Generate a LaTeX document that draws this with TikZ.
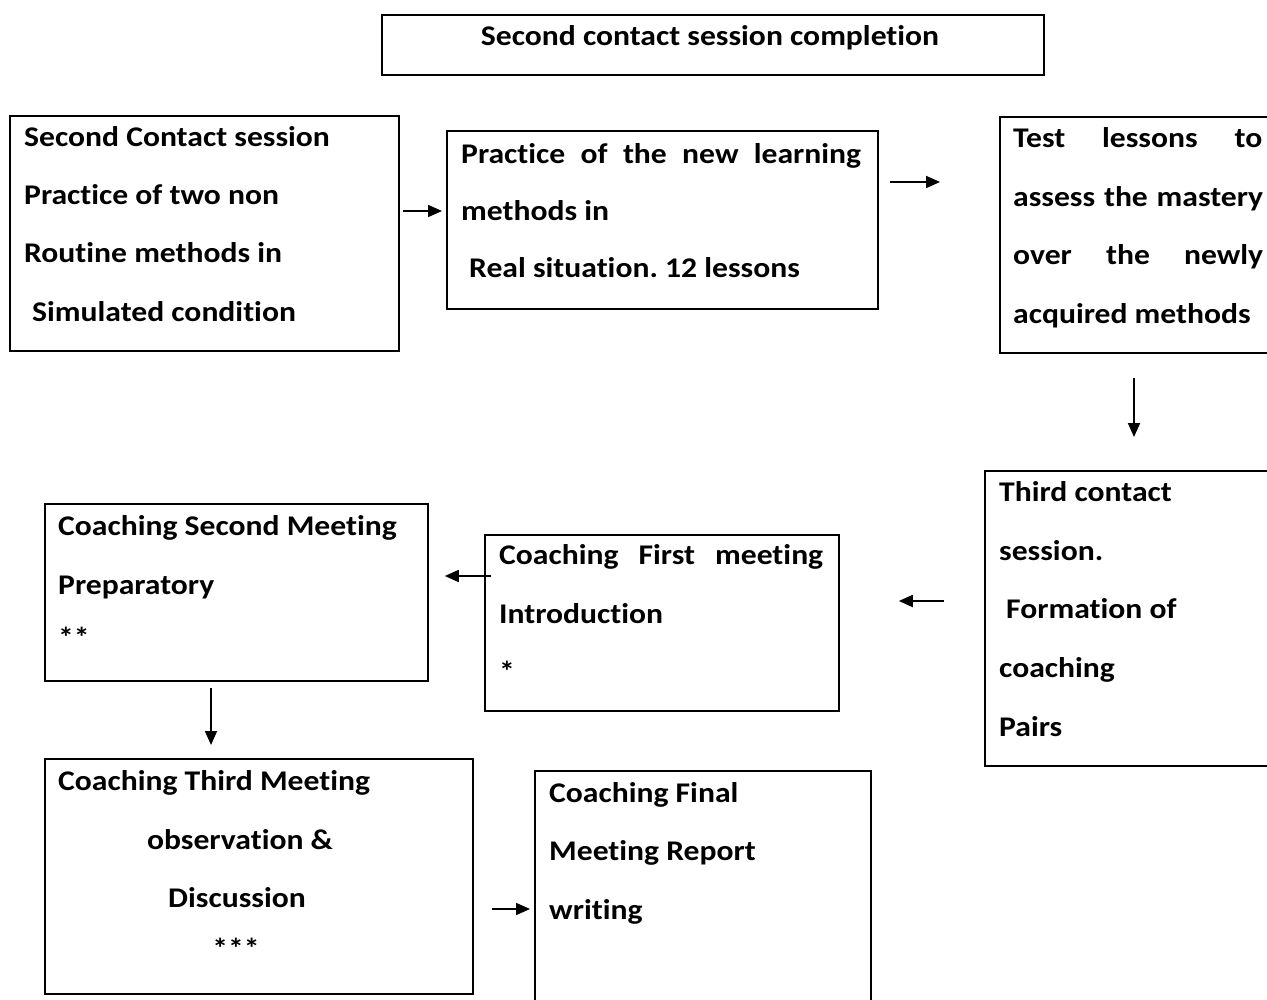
\documentclass[tikz,border=0pt]{standalone}
\usepackage{fontspec}
\setmainfont{Carlito}[FakeStretch=1.11, Ligatures={NoCommon}]
\usetikzlibrary{arrows.meta}
\frenchspacing
\tikzset{
  box/.style={draw, line width=1.8pt, anchor=north west, inner sep=0pt},
  txt/.style={anchor=base west, inner sep=0pt, font=\bfseries\fontsize{28.5}{34}\selectfont},
  arr/.style={line width=1.8pt, -{Triangle[length=14pt,width=12pt]}}
}
\begin{document}
\begin{tikzpicture}[x=1pt,y=-1pt]
\clip (0,0) rectangle (1267,1000);
\fill[white] (0,0) rectangle (1267,1000);
% boxes
\node[box, minimum width=662pt, minimum height=60pt] (T) at (381,14) {};
\node[box, minimum width=389pt, minimum height=235pt] (A) at (9,115) {};
\node[box, minimum width=431pt, minimum height=178pt] (B) at (446,130) {};
\node[box, minimum width=300pt, minimum height=236pt] (C) at (999,116) {};
\node[box, minimum width=310pt, minimum height=295pt] (D) at (984,470) {};
\node[box, minimum width=354pt, minimum height=176pt] (E) at (484,534) {};
\node[box, minimum width=383pt, minimum height=177pt] (F) at (44,503) {};
\node[box, minimum width=428pt, minimum height=235pt] (G) at (44,758) {};
\node[box, minimum width=336pt, minimum height=250pt] (H) at (534,770) {};
% texts
\node[txt, anchor=base] (tT) at (710,46) {Second contact session completion};
\node[txt] (tA1) at (24,147) {Second Contact session};
\node[txt] (tA2) at (24,205) {Practice of two non};
\node[txt] (tA3) at (24,263) {Routine methods in};
\node[txt] (tA4) at (32,322) {Simulated condition};
\node[txt] (tB1) at (461,164) {\makebox[400pt][s]{Practice of the new learning}};
\node[txt] (tB2) at (461,221) {methods in};
\node[txt] (tB3) at (469,278) {Real situation. 12 lessons};
\node[txt] (tC1) at (1013,148) {\makebox[249pt][s]{Test lessons to}};
\node[txt] (tC2) at (1013,206.5) {\makebox[250pt][s]{assess the mastery}};
\node[txt] (tC3) at (1013,265) {\makebox[250pt][s]{over the newly}};
\node[txt] (tC4) at (1013,323.5) {acquired methods};
\node[txt] (tD1) at (999,501) {Third contact};
\node[txt] (tD2) at (999,560) {session.};
\node[txt] (tD3) at (1006,618) {Formation of};
\node[txt] (tD4) at (999,677) {coaching};
\node[txt] (tD5) at (999,736) {Pairs};
\node[txt] (tE1) at (499,564) {\makebox[324pt][s]{Coaching First meeting}};
\node[txt] (tE2) at (499,623) {Introduction};
\node[txt] (tE3) at (499,681) {*};
\node[txt] (tF1) at (58,535) {Coaching Second Meeting};
\node[txt] (tF2) at (58,594) {Preparatory};
\node[txt] (tF3) at (58,647) {**};
\node[txt] (tG1) at (58,790) {Coaching Third Meeting};
\node[txt, anchor=base] (tG2) at (240,849) {observation \&};
\node[txt, anchor=base] (tG3) at (237,907) {Discussion};
\node[txt, anchor=base] (tG4) at (236,958) {***};
\node[txt] (tH1) at (549,802) {Coaching Final};
\node[txt] (tH2) at (549,860) {Meeting Report};
\node[txt] (tH3) at (549,919) {writing};
% arrows
\draw[arr, shorten <=3pt, shorten >=4pt] (A.east |- 0,211) -- (B.west |- 0,211);
\draw[arr, shorten <=11pt, shorten >=59pt] (B.east |- 0,182) -- (C.west |- 0,182);
\draw[arr, shorten <=24pt, shorten >=33pt] (C.south -| 1134,0) -- (D.north -| 1134,0);
\draw[arr, shorten <=40pt, shorten >=59pt] (D.west |- 0,601) -- (E.east |- 0,601);
\draw[arr, shorten <=-7pt, shorten >=16pt] (E.west |- 0,576) -- (F.east |- 0,576);
\draw[arr, shorten <=6pt, shorten >=13pt] (F.south -| 211,0) -- (G.north -| 211,0);
\draw[arr, shorten <=18pt, shorten >=4pt] (G.east |- 0,909) -- (H.west |- 0,909);
\end{tikzpicture}
\end{document}
